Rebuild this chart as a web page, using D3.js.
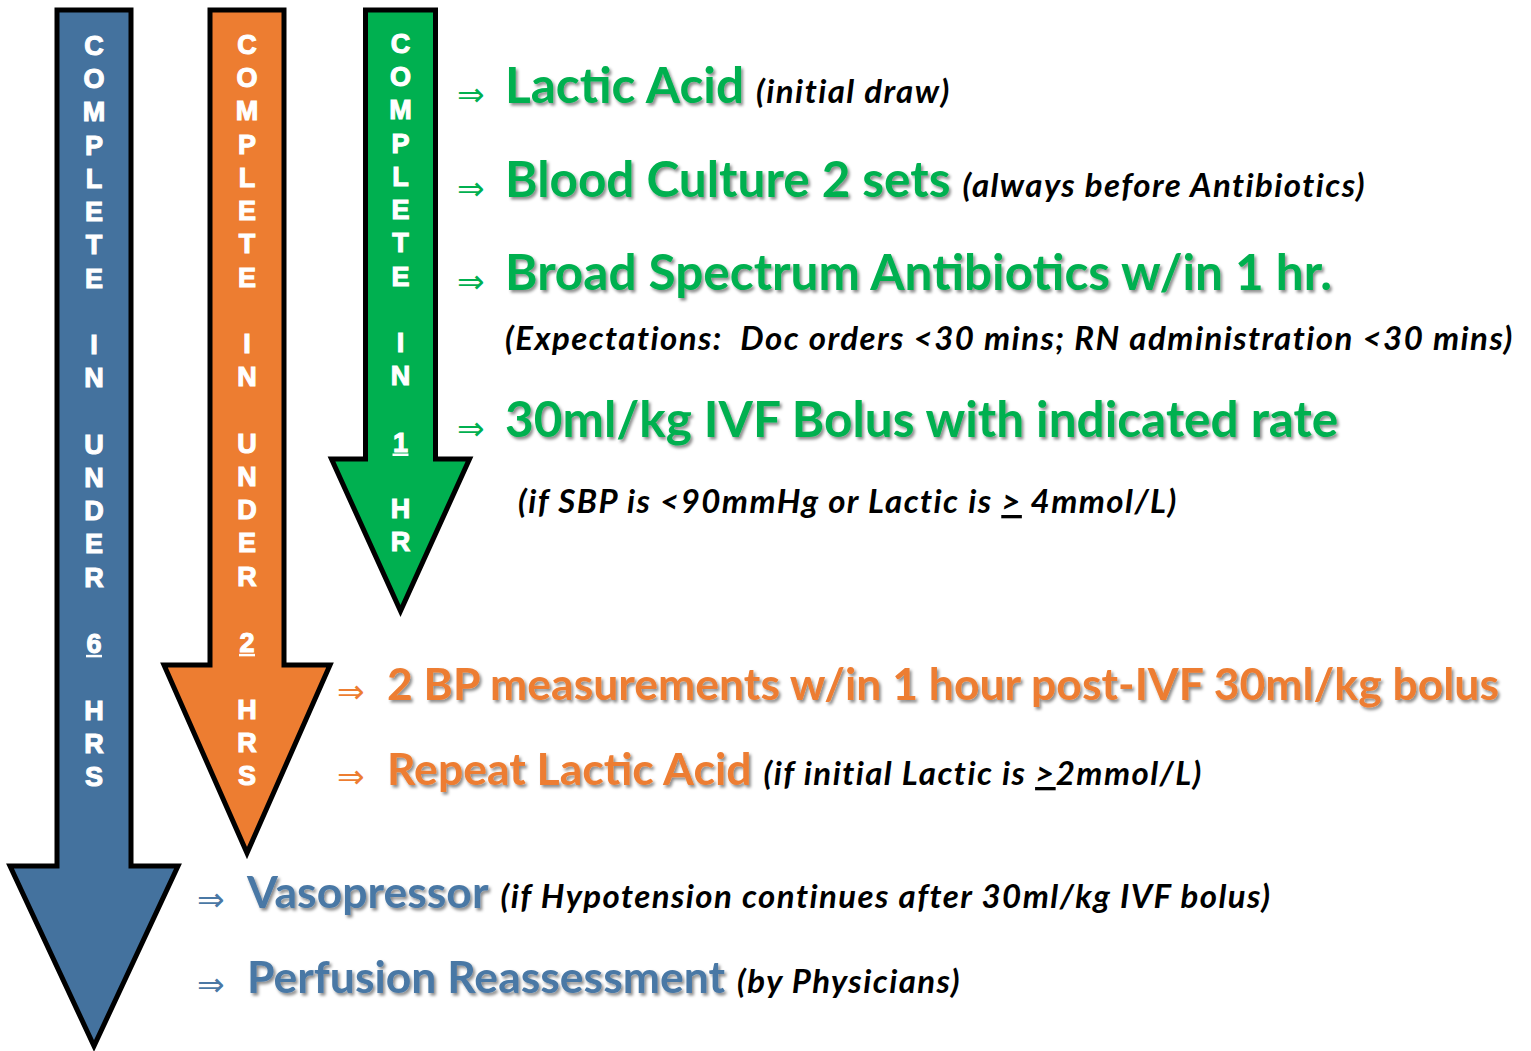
<!DOCTYPE html>
<html>
<head>
<meta charset="utf-8">
<script src="https://cdn.jsdelivr.net/npm/d3@7"></script>
<style>
  html, body { margin: 0; padding: 0; background: #fff; }
  svg { display: block; }
</style>
</head>
<body>
<svg id="chart" width="1531" height="1051"></svg>
<script>
// data
var arrowNames = ["6 hours", "2 hours", "1 hour"];
var arrowLabels = ["COMPLETE IN UNDER 6 HRS", "COMPLETE IN UNDER 2 HRS", "COMPLETE IN 1 HR"];
var arrowDigits = ["6", "2", "1"];
var itemTitles = ["Lactic Acid", "Blood Culture 2 sets", "Broad Spectrum Antibiotics w/in 1 hr.",
  "30ml/kg IVF Bolus with indicated rate", "2 BP measurements w/in 1 hour post-IVF 30ml/kg bolus",
  "Repeat Lactic Acid", "Vasopressor", "Perfusion Reassessment"];
var itemNotes = [["(initial draw)"], ["(always before Antibiotics)"], [""], [""], [""],
  ["(if initial Lactic is ", ">", "2mmol/L)"], ["(if Hypotension continues after 30ml/kg IVF bolus)"], ["(by Physicians)"]];
var itemGroup = ["1 hour", "1 hour", "1 hour", "1 hour", "2 hours", "2 hours", "6 hours", "6 hours"];
var subNotes = [["(Expectations:\u00A0 Doc orders <30 mins; RN administration <30 mins)"],
  ["(if SBP is <90mmHg or Lactic is ", ">", " 4mmol/L)"]];

// styles / layout
var colors = {"6 hours": "#44729e", "2 hours": "#ed7d31", "1 hour": "#00b050"};
var textColors = {"6 hours": "#4a78a5", "2 hours": "#ed7d31", "1 hour": "#00b050"};
var arrowShape = {
  "6 hours": {cx: 94, half: 37, top: 10, headTop: 866, headHalf: 84, tip: 1046},
  "2 hours": {cx: 247, half: 37, top: 10, headTop: 665, headHalf: 83, tip: 853},
  "1 hour":  {cx: 400.5, half: 35, top: 10, headTop: 459, headHalf: 69, tip: 611}
};
var textStart = {"6 hours": 247, "2 hours": 387, "1 hour": 505};
var bulletStart = {"6 hours": 197, "2 hours": 337, "1 hour": 457};
var titleSize = {"6 hours": 44.5, "2 hours": 44.5, "1 hour": 49.5};
var rowBaselines = [103, 197, 290, 437, 700, 785, 908, 993];
var subBaselines = [350, 513];
var subStart = [505, 518];

var svg = d3.select("#chart");

var defs = svg.append("defs");
var f = defs.append("filter").attr("id", "shadow").attr("x", "-5%").attr("y", "-20%")
  .attr("width", "110%").attr("height", "150%");
f.append("feDropShadow").attr("dx", 2).attr("dy", 2.5).attr("stdDeviation", 1.6)
  .attr("flood-color", "#000").attr("flood-opacity", 0.45);

// letter positions along each shaft
var letterY = d3.scaleLinear().domain([0, 22]).range([46, 777]);

var line = d3.line();
arrowNames.forEach(function(name, k) {
  var s = arrowShape[name];
  var pts = [
    [s.cx - s.half, s.top], [s.cx + s.half, s.top], [s.cx + s.half, s.headTop],
    [s.cx + s.headHalf, s.headTop], [s.cx, s.tip], [s.cx - s.headHalf, s.headTop],
    [s.cx - s.half, s.headTop]
  ];
  svg.append("path")
    .attr("d", line(pts) + "Z")
    .attr("fill", colors[name])
    .attr("stroke", "#000")
    .attr("stroke-width", 5)
    .attr("stroke-linejoin", "miter");

  var letters = arrowLabels[k].split("");
  var g = svg.append("g").attr("class", "letters");
  g.selectAll("text")
    .data(letters)
    .enter()
    .append("text")
    .text(function(d) { return d; })
    .attr("x", s.cx)
    .attr("y", function(d, i) { return letterY(i) - k; })
    .attr("text-anchor", "middle")
    .attr("dominant-baseline", "central")
    .attr("font-family", "Liberation Sans, Arial, sans-serif")
    .attr("font-weight", "bold")
    .attr("font-size", "27px")
    .attr("fill", "#fff")
    .attr("stroke", "#fff")
    .attr("stroke-width", 1.1);
  // underline the digit
  var di = letters.indexOf(arrowDigits[k]);
  g.append("line")
    .attr("x1", s.cx - 8).attr("x2", s.cx + 8)
    .attr("y1", letterY(di) - k + 12).attr("y2", letterY(di) - k + 12)
    .attr("stroke", "#fff").attr("stroke-width", 2.5);
});

function addRuns(textSel, runs) {
  runs.forEach(function(r, i) {
    if (r === "") return;
    var t = textSel.append("tspan").text(r);
    if (runs.length === 3 && i === 1) t.attr("text-decoration", "underline");
  });
}

function noteText(x, y) {
  return svg.append("text")
    .attr("x", x)
    .attr("y", y)
    .attr("font-family", "Lato, sans-serif")
    .attr("font-style", "italic")
    .attr("font-weight", "bold")
    .attr("font-size", "33px")
    .attr("letter-spacing", "1.45px")
    .attr("fill", "#000");
}

// items
itemTitles.forEach(function(title, i) {
  var grp = itemGroup[i];
  var y = rowBaselines[i];
  svg.append("text")
    .text("\u21D2")
    .attr("x", bulletStart[grp])
    .attr("y", y + 3)
    .attr("font-family", "DejaVu Sans")
    .attr("font-size", "33px")
    .attr("fill", textColors[grp]);
  var t = svg.append("text")
    .text(title)
    .attr("x", textStart[grp])
    .attr("y", y)
    .attr("font-family", "Lato, sans-serif")
    .attr("font-weight", "bold")
    .attr("font-size", titleSize[grp] + "px")
    .attr("fill", textColors[grp])
    .attr("filter", "url(#shadow)");
  var w = t.node().getComputedTextLength();
  if (itemNotes[i].join("") !== "") {
    addRuns(noteText(textStart[grp] + w + 12, y), itemNotes[i]);
  }
});

subNotes.forEach(function(runs, i) {
  addRuns(noteText(subStart[i], subBaselines[i]), runs);
});
</script>
</body>
</html>
